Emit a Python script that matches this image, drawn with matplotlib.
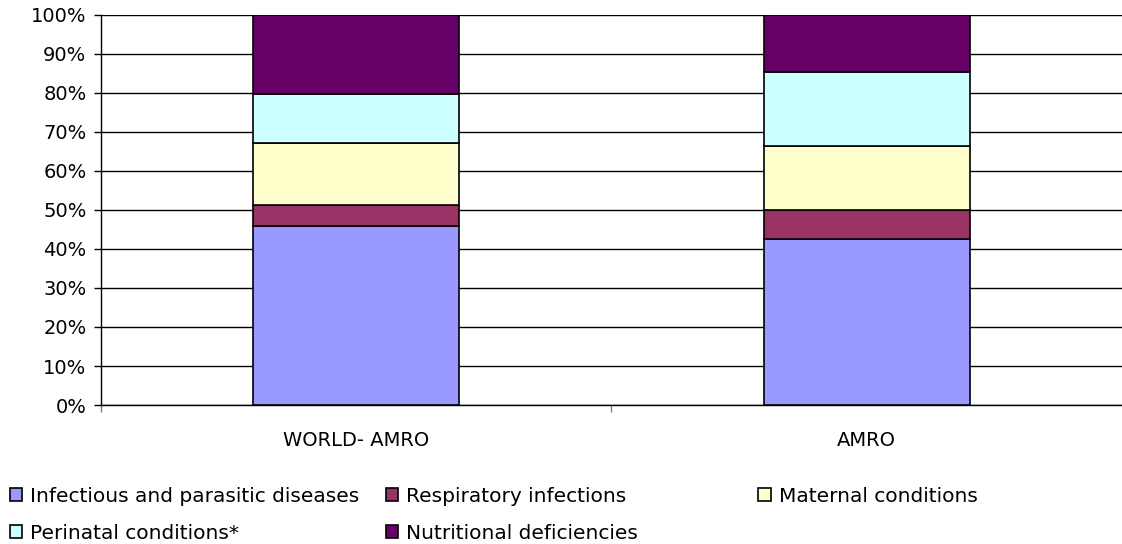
import matplotlib.pyplot as plt
from matplotlib.ticker import FixedLocator, PercentFormatter

categories = ["WORLD- AMRO", "AMRO"]
series_names = ["Infectious and parasitic diseases", "Respiratory infections",
                "Maternal conditions", "Perinatal conditions*", "Nutritional deficiencies"]
infectious = [46.0, 42.6]
respiratory = [5.4, 7.4]
maternal = [15.9, 16.5]
perinatal = [12.5, 19.0]
nutritional = [20.2, 14.5]
colors = ["#9999FF", "#993366", "#FFFFCC", "#CCFFFF", "#660066"]

plt.rcParams['font.family'] = ['DejaVu Sans']

fig = plt.figure(figsize=(11.22, 5.44), dpi=100)
ax = fig.add_axes([0.09, 0.2555, 0.91, 0.717])

x = list(range(len(categories)))
bottom = [0.0, 0.0]
bars = []
for vals, col, name in zip([infectious, respiratory, maternal, perinatal, nutritional],
                           colors, series_names):
    b = ax.bar(x, vals, width=0.404, bottom=bottom, color=col,
               edgecolor="black", linewidth=1.2, label=name, zorder=3)
    bars.append(b)
    bottom = [bt + v for bt, v in zip(bottom, vals)]

ax.set_xlim(-0.5, 1.5)
ax.set_ylim(0, 100)
ax.set_yticks(range(0, 101, 10))
ax.yaxis.set_major_formatter(PercentFormatter(decimals=0))
ax.yaxis.grid(True, color="black", linewidth=1.0, zorder=0)

# category boundary ticks, labels in the middle
ax.xaxis.set_major_locator(FixedLocator([-0.5, 0.5]))
ax.xaxis.set_minor_locator(FixedLocator(x))
ax.set_xticklabels([])
ax.set_xticklabels(categories, minor=True)
ax.tick_params(axis="x", which="major", length=5, width=1, color="#808080", direction="out")
ax.tick_params(axis="x", which="minor", length=0, pad=19, labelsize=14)
ax.tick_params(axis="y", length=5, width=1, direction="out", labelsize=14, pad=5.5)

for s in ["top", "right"]:
    ax.spines[s].set_visible(False)
ax.spines["left"].set_linewidth(1.0)
ax.spines["bottom"].set_linewidth(1.0)

h = [b.patches[0] for b in bars]
leg_kw = dict(loc="upper left", frameon=False, fontsize=14.5, handlelength=0.6,
              handleheight=0.6, handletextpad=0.4, labelspacing=0.89,
              borderaxespad=0, borderpad=0)
leg1 = fig.legend([h[0], h[3], h[1], h[4]],
                  [series_names[0], series_names[3], series_names[1], series_names[4]],
                  ncol=2, bbox_to_anchor=(0.009, 0.105), columnspacing=1.3, **leg_kw)
leg2 = fig.legend([h[2]], [series_names[2]], bbox_to_anchor=(0.676, 0.105), **leg_kw)

fig.savefig("out.png", dpi=100)
